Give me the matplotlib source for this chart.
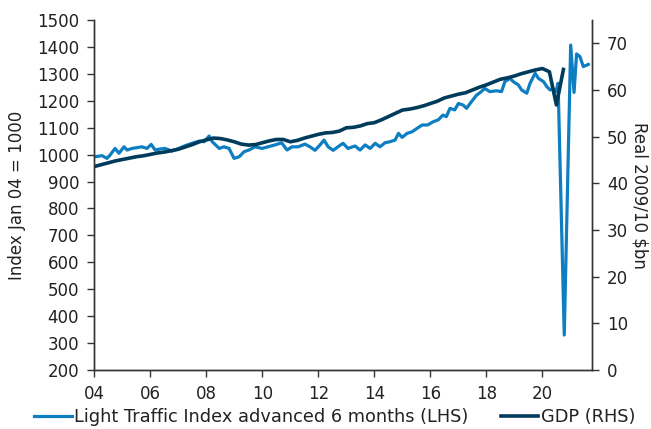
import numpy as np
import matplotlib
matplotlib.use("Agg")
import matplotlib.pyplot as plt

# Light Traffic Index advanced 6 months (LHS), Jan 04 = 1000
lti_dates = [2004.00, 2004.28, 2004.45, 2004.56, 2004.74, 2004.88, 2005.06, 2005.17, 2005.35, 2005.70,
             2005.88, 2006.03, 2006.17, 2006.35, 2006.52, 2006.77, 2007.02, 2007.24, 2007.49, 2007.74,
             2007.92, 2008.10, 2008.21, 2008.46, 2008.63, 2008.81, 2008.99, 2009.17, 2009.35, 2009.52,
             2009.74, 2009.99, 2010.20, 2010.45, 2010.69, 2010.88, 2011.06, 2011.28, 2011.52, 2011.70,
             2011.88, 2012.06, 2012.20, 2012.35, 2012.53, 2012.70, 2012.88, 2013.06, 2013.31, 2013.49,
             2013.67, 2013.85, 2014.03, 2014.20, 2014.38, 2014.56, 2014.74, 2014.86, 2014.99, 2015.17,
             2015.35, 2015.53, 2015.71, 2015.90, 2016.10, 2016.28, 2016.45, 2016.57, 2016.70, 2016.87,
             2017.00, 2017.17, 2017.29, 2017.47, 2017.65, 2017.82, 2017.94, 2018.12, 2018.36, 2018.54,
             2018.66, 2018.84, 2018.96, 2019.14, 2019.26, 2019.44, 2019.56, 2019.74, 2019.86, 2020.04,
             2020.16, 2020.28, 2020.36, 2020.48, 2020.56, 2020.78, 2021.01, 2021.13, 2021.22, 2021.34,
             2021.46, 2021.64]
lti_values = [992, 996, 986, 998, 1023, 1005, 1029, 1017, 1023, 1029,
              1023, 1038, 1017, 1021, 1023, 1013, 1023, 1033, 1042, 1050,
              1048, 1069, 1048, 1023, 1029, 1023, 986, 992, 1011, 1017,
              1029, 1023, 1029, 1036, 1044, 1017, 1029, 1029, 1039, 1029,
              1016, 1036, 1054, 1029, 1016, 1029, 1042, 1023, 1032, 1017,
              1036, 1023, 1042, 1029, 1044, 1048, 1054, 1079, 1064, 1079,
              1085, 1098, 1110, 1110, 1122, 1129, 1147, 1141, 1172, 1166,
              1190, 1184, 1172, 1197, 1221, 1234, 1246, 1234, 1237, 1234,
              1271, 1283, 1271, 1259, 1240, 1228, 1265, 1302, 1283, 1271,
              1252, 1240, 1246, 1234, 1265, 330, 1407, 1231, 1374, 1364,
              1327, 1335]

# GDP (RHS), quarterly, real 2009/10 $bn
gdp_dates = [2004 + 0.25 * i for i in range(68)]
gdp_values = [43.6, 44.0, 44.4, 44.8, 45.1, 45.4, 45.7, 45.9,
              46.2, 46.5, 46.7, 47.0, 47.3, 47.8, 48.3, 48.9,
              49.3, 49.7, 49.6, 49.3, 48.9, 48.4, 48.2, 48.3,
              48.7, 49.1, 49.4, 49.4, 48.9, 49.2, 49.7, 50.1,
              50.5, 50.8, 50.9, 51.2, 51.9, 52.0, 52.3, 52.8,
              53.0, 53.6, 54.3, 55.0, 55.7, 55.9, 56.2, 56.6,
              57.1, 57.6, 58.3, 58.7, 59.1, 59.4, 60.0, 60.6,
              61.1, 61.7, 62.3, 62.6, 63.0, 63.5, 63.9, 64.3,
              64.6, 63.9, 56.8, 64.4]

x_ticks = [2004, 2006, 2008, 2010, 2012, 2014, 2016, 2018, 2020]
x_labels = ['04', '06', '08', '10', '12', '14', '16', '18', '20']

light = '#0C7EC1'
dark = '#003B5C'
txt = '#222222'

plt.rcParams['font.family'] = ['DejaVu Sans']
plt.rcParams['font.size'] = 12

fig = plt.figure(figsize=(6.51, 4.29), dpi=100)
ax = fig.add_axes([0.1449, 0.1375, 0.764, 0.8159])
ax2 = ax.twinx()

l1, = ax.plot(lti_dates, lti_values, color=light, lw=2.3, solid_joinstyle='round',
              label='Light Traffic Index advanced 6 months (LHS)')
l2, = ax2.plot(gdp_dates, gdp_values, color=dark, lw=2.6, solid_joinstyle='round',
               label='GDP (RHS)')

ax.set_xlim(2004, 2021.76)
ax.set_ylim(200, 1500)
ax.set_yticks(range(200, 1501, 100))
ax2.set_ylim(0, 75)
ax2.set_yticks(range(0, 71, 10))
ax.set_xticks(x_ticks)
ax.set_xticklabels(x_labels)

for a in (ax, ax2):
    a.spines['top'].set_visible(False)
    for s in a.spines.values():
        s.set_color('#333333')
        s.set_linewidth(1.0)
    a.tick_params(colors='#333333', labelcolor=txt, length=5, width=1, direction='out', labelsize=12)
ax.tick_params(axis='y', pad=6)
ax.tick_params(axis='x', pad=6)
ax2.tick_params(axis='y', pad=6)

ax.set_ylabel('Index Jan 04 = 1000', color=txt, fontsize=12, labelpad=8)
ax2.set_ylabel('Real 2009/10 $bn', color=txt, fontsize=12, rotation=270, labelpad=15)

fig.legend(handles=[l1, l2], loc='center', bbox_to_anchor=(0.514, 0.027), ncol=2,
           frameon=False, fontsize=12.8, handlelength=2.1, handletextpad=0.15,
           columnspacing=1.8, labelcolor=txt, borderaxespad=0)

fig.savefig('out.png', dpi=100)
